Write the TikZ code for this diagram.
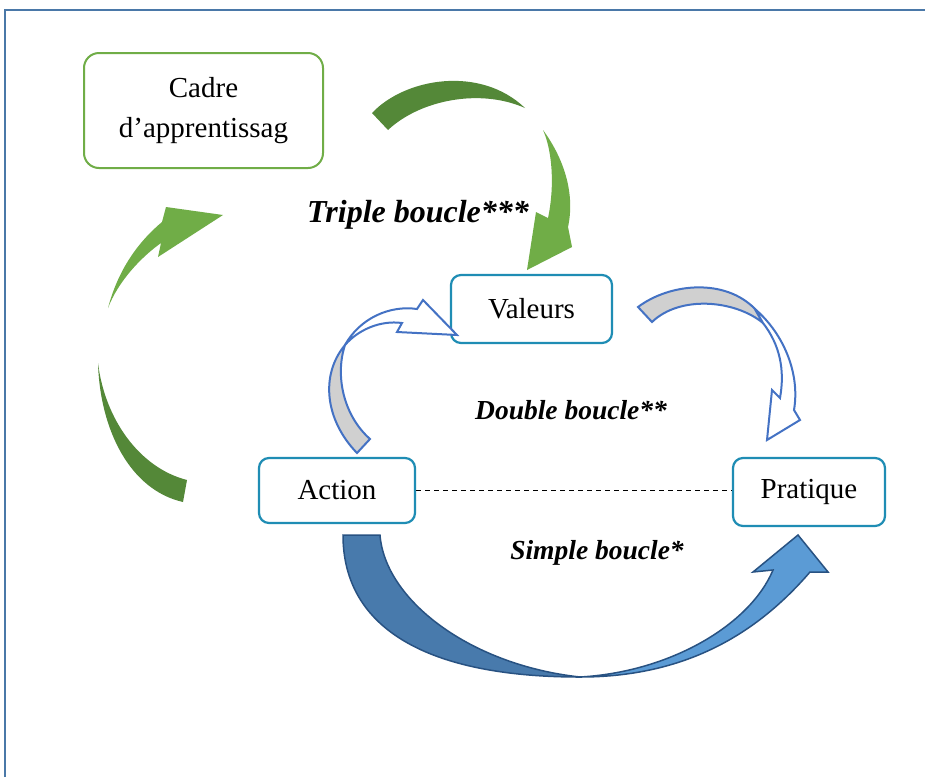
\documentclass[tikz,border=0pt]{standalone}
\usepackage{fontspec}
\setmainfont{Liberation Serif}
\definecolor{framec}{RGB}{74,120,168}
\definecolor{gdark}{RGB}{84,136,56}
\definecolor{glight}{RGB}{112,173,71}
\definecolor{teal}{RGB}{31,141,180}
\definecolor{bstroke}{RGB}{68,114,196}
\definecolor{grayf}{RGB}{208,208,208}
\definecolor{bdark}{RGB}{72,122,172}
\definecolor{blight}{RGB}{91,155,213}
\definecolor{bline}{RGB}{40,82,130}
\tikzset{
  boxtext/.style={font=\fontsize{29}{40}\selectfont, align=center},
  gbox/.style={boxtext, draw=glight, line width=2pt, rounded corners=15pt, fill=white},
  tbox/.style={boxtext, draw=teal, line width=2.2pt, rounded corners=10pt, fill=white},
  dblarrow/.style={draw=bstroke, line width=2pt, line join=miter},
  smparrow/.style={draw=bline, line width=1.5pt, line join=miter},
}
\begin{document}
\begin{tikzpicture}[x=1pt,y=-1pt]
\useasboundingbox (0,0) rectangle (925,777);
\fill[white] (0,0) rectangle (925,777);
% frame
\draw[framec, line width=2pt] (5,777) -- (5,10) -- (925,10);

% nodes
\node[gbox, minimum width=239pt, minimum height=115pt] (cadre) at (203.5,110.5) {Cadre\\d’apprentissag};
\node[tbox, minimum width=161pt, minimum height=68pt] (valeurs) at (531.5,309) {Valeurs};
\node[tbox, minimum width=156pt, minimum height=65pt] (action) at (337,490.5) {Action};
\node[tbox, minimum width=152pt, minimum height=68pt] (pratique) at (809,492) {Pratique};

\draw[dashed, line width=1.2pt, dash pattern=on 5pt off 4pt] (action.east) -- (action.east -| pratique.west);

% triple loop (green)
\fill[gdark] (372,113) .. controls (405,78) and (480,65) .. (525,108)
  .. controls (480,88) and (420,100) .. (388,130) -- cycle;
\fill[glight] (543,130) .. controls (565,160) and (575,195) .. (568,227)
  -- (572,247) -- (527,270) -- (536,212) -- (548,218)
  .. controls (555,185) and (552,150) .. (543,130) -- cycle;
\fill[glight] (108,308) .. controls (118,270) and (138,242) .. (162,222)
  -- (166,207) -- (223,215) -- (158,257) -- (161,243)
  .. controls (140,258) and (118,282) .. (108,308) -- cycle;
\fill[gdark] (98,363) .. controls (100,430) and (130,490) .. (183,502)
  -- (187,480) .. controls (140,468) and (105,420) .. (98,363) -- cycle;

% double loop
\filldraw[dblarrow, fill=grayf] (357,453) .. controls (325,420) and (320,375) .. (345,345)
  .. controls (335,375) and (343,415) .. (370,439) -- cycle;
\filldraw[dblarrow, fill=white] (345,345) .. controls (360,318) and (390,305) .. (417,309)
  -- (423,300) -- (457,335) -- (397,332) -- (402,323)
  .. controls (380,320) and (358,330) .. (345,345) -- cycle;

\filldraw[dblarrow, fill=grayf] (638,307) .. controls (670,283) and (725,278) .. (755,309)
  -- (763,323) .. controls (735,300) and (680,295) .. (652,322) -- cycle;
\filldraw[dblarrow, fill=white] (755,309) .. controls (785,335) and (800,375) .. (794,410)
  -- (800,420) -- (767,440) -- (772,390) -- (780,398)
  .. controls (785,370) and (780,345) .. (763,323) -- cycle;

% simple loop
\filldraw[smparrow, fill=bdark] (343,535) .. controls (343,630) and (430,677) .. (580,677)
  .. controls (470,665) and (385,600) .. (380,535) -- cycle;
\filldraw[smparrow, fill=blight] (580,677) .. controls (690,677) and (760,630) .. (810,572)
  -- (828,572) -- (798,535) -- (753,572) -- (773,570)
  .. controls (750,625) and (670,672) .. (580,677) -- cycle;

% labels
\node[font=\bfseries\itshape\fontsize{32}{36}\selectfont] (triple) at (418,215) {Triple boucle***};
\node[font=\bfseries\itshape\fontsize{27.5}{32}\selectfont] (double) at (571,410) {Double boucle**};
\node[font=\bfseries\itshape\fontsize{27.5}{32}\selectfont] (simple) at (597,553) {Simple boucle*};
\end{tikzpicture}
\end{document}
